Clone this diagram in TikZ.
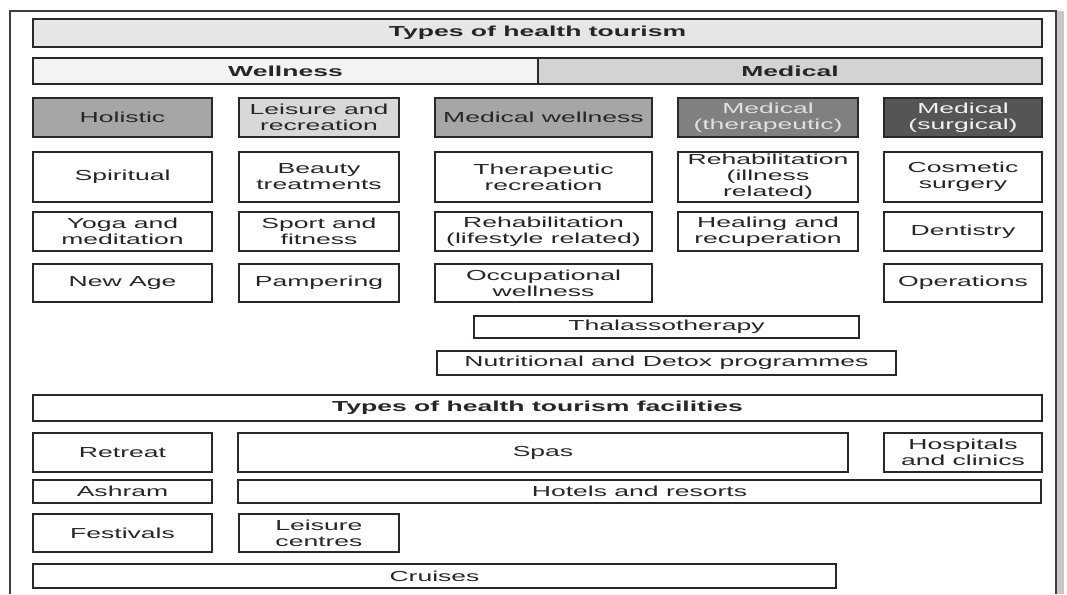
\documentclass[tikz,border=0pt]{standalone}
\usepackage{fontspec}
\setmainfont{Liberation Sans}[FakeStretch=1.83]

\definecolor{titlegray}{RGB}{230,230,230}
\definecolor{wellgray}{RGB}{243,243,243}
\definecolor{medgray}{RGB}{211,211,211}
\definecolor{holgray}{RGB}{166,166,166}
\definecolor{leigray}{RGB}{216,216,216}
\definecolor{thergray}{RGB}{128,128,128}
\definecolor{surggray}{RGB}{85,85,85}
\definecolor{inkgray}{RGB}{40,40,45}

\tikzset{
  cell/.style={draw=inkgray, line width=1.2pt, inner sep=0pt, align=center,
    text=black!85, font=\fontsize{14.5pt}{16pt}\selectfont},
  head/.style={cell, font=\fontsize{14.5pt}{16pt}\selectfont\bfseries},
  sz/.style n args={2}{minimum width=#1pt, minimum height=#2pt}
}

\begin{document}
\begin{tikzpicture}[x=1pt, y=-1pt]
\useasboundingbox (0,0) rectangle (1067,594);

% outer frame
\fill[black!22] (1057,11) rectangle (1064,594);
\draw[line width=1.6pt, black!75] (10,594) -- (10,11) -- (1056,11) -- (1056,594);

% types of health tourism
\node[head, sz={1009}{28}, fill=titlegray] (types) at (537.5,33) {Types of health tourism};
\node[head, sz={505}{26}, fill=wellgray] (wellness) at (285.5,71) {Wellness};
\node[head, sz={504}{26}, fill=medgray] (medical) at (790,71) {Medical};

\node[cell, sz={179}{39}, fill=holgray] (holistic) at (122.5,117.5) {Holistic};
\node[cell, sz={160}{39}, fill=leigray] (leisure) at (319,117.5) {Leisure and\\recreation};
\node[cell, sz={217}{39}, fill=holgray] (medwell) at (543.5,117.5) {Medical wellness};
\node[cell, sz={180}{39}, fill=thergray, text=black!12] (medther) at (768,117.5) {Medical\\(therapeutic)};
\node[cell, sz={158}{39}, fill=surggray, text=black!5] (medsurg) at (963,117.5) {Medical\\(surgical)};

\node[cell, sz={179}{50}] (spiritual) at (122.5,177) {Spiritual};
\node[cell, sz={160}{50}] (beauty) at (319,177) {Beauty\\treatments};
\node[cell, sz={217}{50}] (therrec) at (543.5,177) {Therapeutic\\recreation};
\node[cell, sz={180}{50}] (rehabill) at (768,177) {Rehabilitation\\(illness\\related)};
\node[cell, sz={158}{50}] (cosmetic) at (963,177) {Cosmetic\\surgery};

\node[cell, sz={179}{39}] (yoga) at (122.5,231.5) {Yoga and\\meditation};
\node[cell, sz={160}{39}] (sport) at (319,231.5) {Sport and\\fitness};
\node[cell, sz={217}{39}] (rehablife) at (543.5,231.5) {Rehabilitation\\(lifestyle related)};
\node[cell, sz={180}{39}] (healing) at (768,231.5) {Healing and\\recuperation};
\node[cell, sz={158}{39}] (dentistry) at (963,231.5) {Dentistry};

\node[cell, sz={179}{38}] (newage) at (122.5,283) {New Age};
\node[cell, sz={160}{38}] (pampering) at (319,283) {Pampering};
\node[cell, sz={217}{38}] (occup) at (543.5,283) {Occupational\\wellness};
\node[cell, sz={158}{38}] (operations) at (963,283) {Operations};

\node[cell, sz={385}{22}] (thalasso) at (666.5,327) {Thalassotherapy};
\node[cell, sz={459}{24}] (detox) at (666.5,363) {Nutritional and Detox programmes};

% facilities
\node[head, sz={1009}{26}] (facilities) at (537.5,408) {Types of health tourism facilities};

\node[cell, sz={179}{39}] (retreat) at (122.5,452.5) {Retreat};
\node[cell, sz={610}{39}] (spas) at (543,452.5) {Spas};
\node[cell, sz={158}{39}] (hospitals) at (963,452.5) {Hospitals\\and clinics};

\node[cell, sz={179}{23}] (ashram) at (122.5,491.5) {Ashram};
\node[cell, sz={803}{23}] (hotels) at (639.5,491.5) {Hotels and resorts};

\node[cell, sz={179}{38}] (festivals) at (122.5,533) {Festivals};
\node[cell, sz={160}{38}] (leicentres) at (319,533) {Leisure\\centres};

\node[cell, sz={803}{24}] (cruises) at (434.5,576) {Cruises};
\end{tikzpicture}
\end{document}
